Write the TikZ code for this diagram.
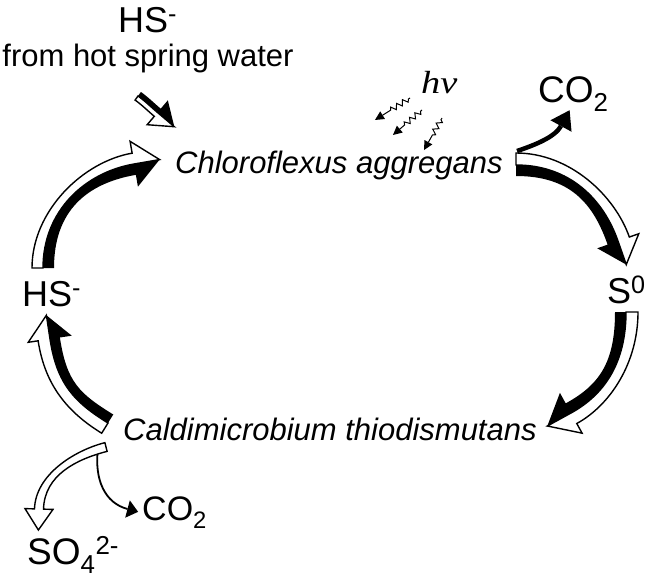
\documentclass[tikz,border=0pt]{standalone}
\usepackage{graphicx}
\usepackage{fontspec}
\setmainfont{Liberation Sans}
\newfontfamily\serifit{Liberation Serif}
\usetikzlibrary{calc,decorations.pathmorphing}

\tikzset{
  ribwhite/.style={fill=white, draw=black, line width=1.4pt, line join=miter},
  lbl/.style={inner sep=0pt, anchor=base west},
  photon/.style={line width=1pt, decorate,
    decoration={zigzag, segment length=7pt, amplitude=2.6pt, pre length=2pt, post length=6pt}},
}

% two-tone ribbon arrow: start, ctrl1, ctrl2, head base, white width, black width, head half width, head length
\newcommand\ribbon[8]{%
 \coordinate (rS) at (#1); \coordinate (rP) at (#2);
 \coordinate (rQ) at (#3); \coordinate (rB) at (#4);
 \coordinate (wS) at ($(rS)!#5!90:(rP)$);
 \coordinate (wB) at ($(rB)!#5!-90:(rQ)$);
 \coordinate (wP) at ($(rP)+(wS)-(rS)$);
 \coordinate (wQ) at ($(rQ)+(wB)-(rB)$);
 \coordinate (bS) at ($(rS)!#6!-90:(rP)$);
 \coordinate (bB) at ($(rB)!#6!90:(rQ)$);
 \coordinate (bP) at ($(rP)+(bS)-(rS)$);
 \coordinate (bQ) at ($(rQ)+(bB)-(rB)$);
 \coordinate (hW) at ($(rB)!#7!-90:(rQ)$);
 \coordinate (hK) at ($(rB)!#7!90:(rQ)$);
 \coordinate (hA) at ($(rB)!-#8!(rQ)$);
 \filldraw[ribwhite] (rS) .. controls (rP) and (rQ) .. (rB) -- (hA) -- (hW) -- (wB)
   .. controls (wQ) and (wP) .. (wS) -- cycle;
 \fill[black] (rS) .. controls (rP) and (rQ) .. (rB) -- (hA) -- (hK) -- (bB)
   .. controls (bQ) and (bP) .. (bS) -- cycle;
}
% hollow arrow: start, ctrl1, ctrl2, head base, half width, head half width, head length
\newcommand\hollow[7]{%
 \coordinate (rS) at (#1); \coordinate (rP) at (#2);
 \coordinate (rQ) at (#3); \coordinate (rB) at (#4);
 \coordinate (lS) at ($(rS)!#5!90:(rP)$);
 \coordinate (lB) at ($(rB)!#5!-90:(rQ)$);
 \coordinate (lP) at ($(rP)+(lS)-(rS)$);
 \coordinate (lQ) at ($(rQ)+(lB)-(rB)$);
 \coordinate (tS) at ($(rS)!#5!-90:(rP)$);
 \coordinate (tB) at ($(rB)!#5!90:(rQ)$);
 \coordinate (tP) at ($(rP)+(tS)-(rS)$);
 \coordinate (tQ) at ($(rQ)+(tB)-(rB)$);
 \coordinate (hL) at ($(rB)!#6!-90:(rQ)$);
 \coordinate (hR) at ($(rB)!#6!90:(rQ)$);
 \coordinate (hA) at ($(rB)!-#7!(rQ)$);
 \filldraw[ribwhite] (lS) .. controls (lP) and (lQ) .. (lB) -- (hL) -- (hA) -- (hR) -- (tB)
   .. controls (tQ) and (tP) .. (tS) -- cycle;
}
% filled triangle head: base, reference point behind, half width, length
\newcommand\headtri[4]{%
 \fill ($(#1)!#3!90:(#2)$) -- ($(#1)!-#4!(#2)$) -- ($(#1)!#3!-90:(#2)$) -- cycle;}

\begin{document}
\begin{tikzpicture}[x=1pt, y=-1pt]
\useasboundingbox (0,0) rectangle (650,579);

% ---- text ----
\node[lbl, font=\fontsize{36}{36}\selectfont] (hstop) at (118,32) {HS\textsuperscript{-}};
\node[inner sep=0pt, anchor=base, font=\fontsize{31}{31}\selectfont] (spring) at (148,66) {from hot spring water};
\node[lbl, font=\fontsize{31}{31}\selectfont\itshape] (chloro) at (175,173) {Chloroflexus aggregans};
\node[lbl, font=\fontsize{31}{31}\selectfont\itshape] (caldi) at (123,440) {Caldimicrobium thiodismutans};
\node[lbl, font=\fontsize{36}{36}\selectfont] (hsleft) at (22,306) {HS\textsuperscript{-}};
\node[lbl, font=\fontsize{36}{36}\selectfont] (szero) at (607,303) {S\textsuperscript{0}};
\node[lbl, font=\fontsize{37}{37}\selectfont] (co2top) at (538,102) {CO\textsubscript{2}};
\node[lbl, font=\fontsize{34}{34}\selectfont] (co2bot) at (142,520) {CO\textsubscript{2}};
\node[lbl, font=\fontsize{37}{37}\selectfont] (sofour) at (27,564) {SO\textsubscript{4}\textsuperscript{2-}};
\node[lbl, font=\fontsize{32}{32}\selectfont\serifit\itshape] (hv) at (421,93) {\scalebox{1.2}[1]{hν}};

% ---- named ends ----
\coordinate (aTail) at (43,268);   \coordinate (aHead) at (134,164);
\coordinate (bTail) at (516,165);  \coordinate (bHead) at (618,241);
\coordinate (cTail) at (626,312);  \coordinate (cHead) at (571,413);
\coordinate (dTail) at (108,423);  \coordinate (dHead) at (50,339);
\coordinate (inTail) at (138,96);  \coordinate (inHead) at (157.5,112.5);
\coordinate (soTail) at (106,447); \coordinate (soHead) at (39,509);
\coordinate (ctTail) at (517,151); \coordinate (ctHead) at (561,126);
\coordinate (cbTail) at (98,448);  \coordinate (cbHead) at (127.5,509);

% ---- cycle arrows ----
\ribbon{aTail}{43,211}{84.75,172.5}{aHead}{11pt}{11pt}{23pt}{26pt}
\ribbon{bTail}{570,165}{603.5,199.6}{bHead}{12pt}{11pt}{22pt}{25pt}
\ribbon{cTail}{626,363}{604.3,394.7}{cHead}{12pt}{11pt}{23pt}{27pt}
\ribbon{dTail}{74,402}{56.75,383.5}{dHead}{12pt}{10pt}{22pt}{24pt}
% inflow from hot spring
\ribbon{inTail}{145,101}{151,107}{inHead}{-5pt}{-5pt}{-16pt}{22pt}

% ---- side products ----
\draw[line width=4.5pt] (ctTail) .. controls (535,145) and (555,137) .. (ctHead);
\headtri{ctHead}{555,137}{12pt}{18pt}
\draw[line width=1.8pt] (cbTail) .. controls (94,480) and (105,503) .. (cbHead);
\headtri{cbHead}{105,503}{9pt}{11pt}
\hollow{soTail}{75,455}{40,475}{soHead}{4.5pt}{14pt}{21pt}

% ---- light ----
\coordinate (p1t) at (410,98);  \coordinate (p1b) at (382.6,115.2);
\coordinate (p2t) at (422,110); \coordinate (p2b) at (399.8,129.1);
\coordinate (p3t) at (442,118); \coordinate (p3b) at (428.4,142.2);
\draw[photon] (p1t) -- (p1b); \headtri{p1b}{p1t}{4.5pt}{9pt}
\draw[photon] (p2t) -- (p2b); \headtri{p2b}{p2t}{4.5pt}{9pt}
\draw[photon] (p3t) -- (p3b); \headtri{p3b}{p3t}{4.5pt}{9pt}
\end{tikzpicture}
\end{document}
